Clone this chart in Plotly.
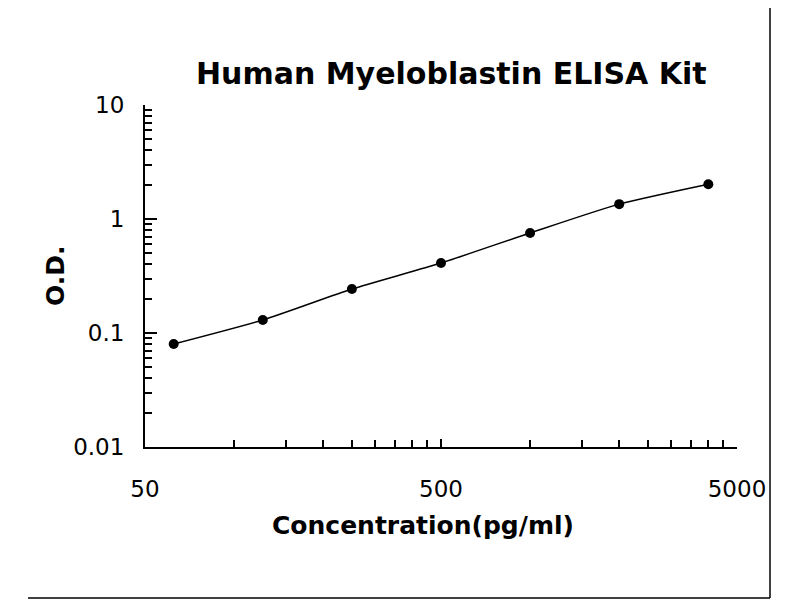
import plotly.graph_objects as go

# Standard curve readings
concentration = [62.5, 125, 250, 500, 1000, 2000, 4000]
od = [0.080, 0.130, 0.243, 0.411, 0.754, 1.35, 2.02]

# Tick positions / labels
x_tickvals = [50, 500, 5000]
x_ticktext = ["50", "500", "5000"]
x_minor = [100, 150, 200, 250, 300, 350, 400, 450,
           1000, 1500, 2000, 2500, 3000, 3500, 4000, 4500]
y_tickvals = [0.01, 0.1, 1, 10]
y_ticktext = ["0.01", "0.1", "1", "10"]
y_minor = [0.02, 0.03, 0.04, 0.05, 0.06, 0.07, 0.08, 0.09,
           0.2, 0.3, 0.4, 0.5, 0.6, 0.7, 0.8, 0.9,
           2, 3, 4, 5, 6, 7, 8, 9]

fig = go.Figure()
fig.add_trace(
    go.Scatter(
        x=concentration,
        y=od,
        mode="lines+markers",
        line=dict(color="black", width=1.5, shape="spline", smoothing=0.6),
        marker=dict(color="black", size=10),
        showlegend=False,
    )
)

axis_font = dict(family="DejaVu Sans", size=23, color="black")

fig.update_xaxes(
    type="log",
    range=[1.69897, 3.69897],
    tickmode="array",
    tickvals=x_tickvals,
    ticktext=x_ticktext,
    ticks="inside",
    ticklen=8,
    tickwidth=2,
    tickcolor="black",
    tickfont=axis_font,
    ticklabelstandoff=20,
    minor=dict(tickmode="array", tickvals=x_minor, ticks="inside",
               ticklen=7, tickwidth=2, tickcolor="black"),
    showline=True,
    linecolor="black",
    linewidth=2,
    showgrid=False,
    zeroline=False,
)
fig.update_yaxes(
    type="log",
    range=[-2, 1],
    tickmode="array",
    tickvals=y_tickvals,
    ticktext=y_ticktext,
    ticks="inside",
    ticklen=12,
    tickwidth=2,
    tickcolor="black",
    tickfont=axis_font,
    ticklabelstandoff=14,
    minor=dict(tickmode="array", tickvals=y_minor, ticks="inside",
               ticklen=7, tickwidth=2, tickcolor="black"),
    showline=True,
    linecolor="black",
    linewidth=2,
    showgrid=False,
    zeroline=False,
)

bold = dict(family="DejaVu Sans", size=30, color="black", weight="bold")

# the page puts the figure 8px in from the top-left corner
fig.update_layout(
    width=800,
    height=600,
    margin=dict(l=137, r=71, t=97, b=161),
    paper_bgcolor="white",
    plot_bgcolor="white",
    annotations=[
        dict(text="Human Myeloblastin ELISA Kit", x=0.517, y=1.0 + 32 / 342,
             xref="paper", yref="paper", showarrow=False,
             font=bold, xanchor="center", yanchor="middle"),
        dict(text="Concentration(pg/ml)", x=0.47, y=-78 / 342,
             xref="paper", yref="paper", showarrow=False,
             font=dict(bold, size=25), xanchor="center", yanchor="middle"),
        dict(text="O.D.", x=-90 / 592, y=0.5, textangle=-90,
             xref="paper", yref="paper", showarrow=False,
             font=dict(bold, size=25), xanchor="center", yanchor="middle"),
    ],
    shapes=[
        # frame lines of the original figure box (right and bottom)
        dict(type="line", xref="paper", yref="paper",
             x0=625 / 592, x1=625 / 592, y0=1.31, y1=-151 / 342,
             line=dict(color="black", width=1.5)),
        dict(type="line", xref="paper", yref="paper",
             x0=-117 / 592, x1=625 / 592, y0=-151 / 342, y1=-151 / 342,
             line=dict(color="black", width=1.5)),
    ],
)

fig.write_html("out.html")
